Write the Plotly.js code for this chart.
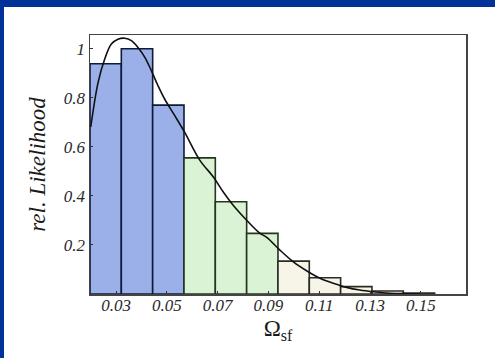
<!DOCTYPE html>
<html>
<head>
<meta charset="utf-8">
<script src="https://cdn.plot.ly/plotly-3.0.1.min.js"></script>
<style>
  html, body { margin: 0; padding: 0; background: #003399; width: 495px; height: 358px; overflow: hidden; }
  #chart { position: absolute; left: 4px; top: 7px; width: 491px; height: 351px; }
</style>
</head>
<body>
<div id="chart"></div>
<script>
// Histogram bins (centers) and relative likelihoods
const binCenters = [0.02587, 0.03821, 0.05055, 0.06289, 0.07523, 0.08757, 0.09991, 0.11225, 0.12459, 0.13693, 0.14927];
const binWidth = 0.01234;
const binHeights = [0.939, 1.0, 0.770, 0.555, 0.376, 0.247, 0.134, 0.066, 0.030, 0.012, 0.004];
const binGroup = ['blue', 'blue', 'blue', 'green', 'green', 'green', 'beige', 'beige', 'beige', 'beige', 'beige'];

// Smooth likelihood curve
const curveX = [0.0200, 0.0229, 0.0255, 0.0281, 0.0307, 0.0334, 0.0360, 0.0386, 0.0413, 0.0439, 0.0465, 0.0491, 0.0531, 0.0570, 0.0630, 0.0683, 0.0722, 0.0761, 0.0814, 0.0867, 0.0893, 0.0945, 0.0998, 0.1050, 0.1103, 0.1155, 0.1208, 0.1260, 0.1313, 0.1378, 0.1444, 0.1500];
const curveY = [0.681, 0.863, 0.958, 1.019, 1.039, 1.043, 1.033, 1.005, 0.965, 0.910, 0.849, 0.795, 0.727, 0.659, 0.545, 0.477, 0.416, 0.362, 0.301, 0.247, 0.231, 0.179, 0.131, 0.095, 0.064, 0.044, 0.027, 0.016, 0.009, 0.003, 0.001, 0.0];

const xTickVals = [0.03, 0.05, 0.07, 0.09, 0.11, 0.13, 0.15];
const xTickText = ['0.03', '0.05', '0.07', '0.09', '0.11', '0.13', '0.15'];
const yTickVals = [0.2, 0.4, 0.6, 0.8, 1];
const yTickText = ['0.2', '0.4', '0.6', '0.8', '1'];

const fills = { blue: '#9bb0e8', green: '#daf3d4', beige: '#f7f4e8' };
const edges = { blue: '#0d1a3a', green: '#24361f', beige: '#2b2b22' };

const traces = [];
['blue', 'green', 'beige'].forEach(g => {
  const xs = [], ys = [];
  binCenters.forEach((c, i) => { if (binGroup[i] === g) { xs.push(c); ys.push(binHeights[i]); } });
  traces.push({
    type: 'bar', x: xs, y: ys, width: binWidth,
    marker: { color: fills[g], line: { color: edges[g], width: 1.6 } },
    hoverinfo: 'skip', showlegend: false
  });
});
traces.push({
  type: 'scatter', mode: 'lines', x: curveX, y: curveY,
  line: { color: '#111', width: 1.6, shape: 'spline', smoothing: 1 },
  hoverinfo: 'skip', showlegend: false
});

const serif = 'Liberation Serif, Times New Roman, serif';
const tickFont = { family: serif, size: 17, color: '#2a2a2a' };

const layout = {
  width: 491, height: 351,
  margin: { l: 86, r: 29, t: 28, b: 64 },
  paper_bgcolor: '#ffffff', plot_bgcolor: '#ffffff',
  bargap: 0,
  xaxis: {
    range: [0.0197, 0.1678],
    tickvals: xTickVals, ticktext: xTickText,
    ticks: 'inside', ticklen: 3, tickcolor: '#333', tickwidth: 1,
    ticklabelstandoff: -5,
    showline: true, linecolor: '#444', linewidth: 1.5, mirror: true,
    showgrid: false, zeroline: false,
    tickfont: tickFont,
    title: { text: 'Ω<sub>sf</sub>', font: { family: serif, size: 23, color: '#1a1a1a' }, standoff: 6 }
  },
  yaxis: {
    range: [0, 1.056],
    tickvals: yTickVals, ticktext: yTickText,
    ticks: 'inside', ticklen: 3, tickcolor: '#333', tickwidth: 1,
    showline: true, linecolor: '#444', linewidth: 1.5, mirror: true,
    showgrid: false, zeroline: false,
    tickfont: tickFont,
    title: { text: '<i>rel. Likelihood</i>', font: { family: serif, size: 23, color: '#1a1a1a' }, standoff: 12 }
  }
};

Plotly.newPlot('chart', traces, layout, { staticPlot: true, displayModeBar: false }).then(() => {
  document.querySelectorAll('.xtick text, .ytick text').forEach(t => t.style.fontStyle = 'italic');
});
</script>
</body>
</html>
